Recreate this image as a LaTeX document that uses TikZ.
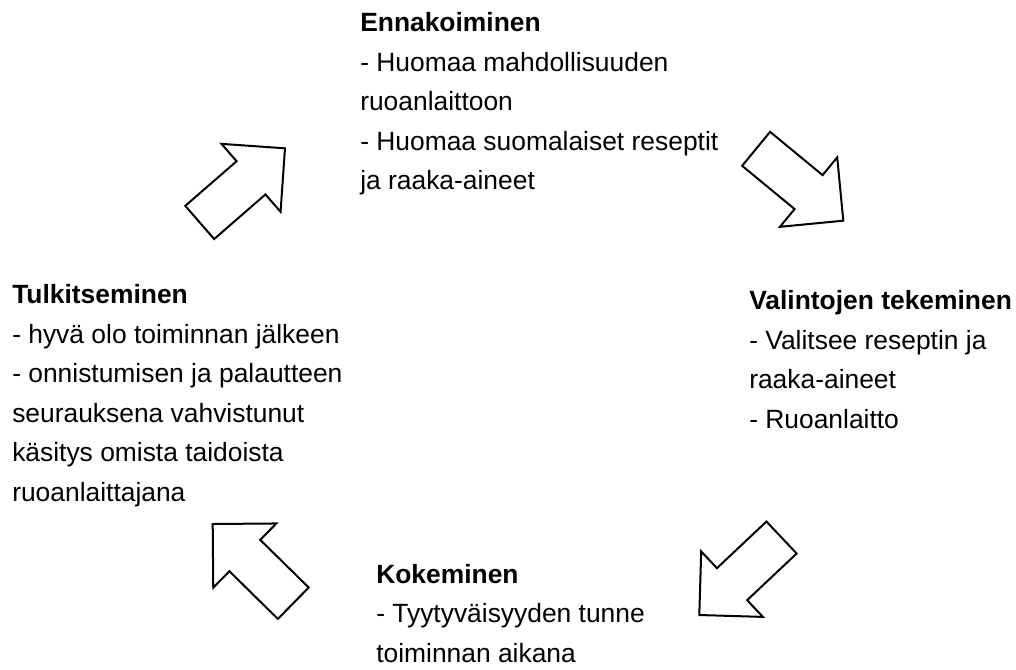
\documentclass[tikz,border=0pt]{standalone}
\usepackage{fontspec}
\setmainfont{Liberation Sans}
\tikzset{
  lbl/.style={anchor=base west, inner sep=0pt, align=left, text=black,
    font=\fontsize{19.8pt}{29.6pt}\selectfont},
  blockarrow/.style={draw=black, line width=1.5pt, fill=white, line join=miter},
}
\newcommand\cyclearrow[3]{% tip x, tip y, angle
  \begin{scope}[shift={(#1,#2)}, x=0.75pt, y=0.75pt, rotate=#3]
    \draw[blockarrow] (0,0) -- (-45,45) -- (-45,22) -- (-113,22) -- (-113,-22)
      -- (-45,-22) -- (-45,-45) -- cycle;
  \end{scope}}
\begin{document}
\begin{tikzpicture}[x=0.75pt, y=-0.75pt]
  \useasboundingbox (0,0) rectangle (1016,669);
  % anchor base = baseline of the last line
  \node[lbl] (ennak) at (360,189.5) {\textbf{Ennakoiminen}\\- Huomaa mahdollisuuden\\ruoanlaittoon\\- Huomaa suomalaiset reseptit\\ja raaka-aineet};
  \node[lbl] (valin) at (749,428) {\textbf{Valintojen tekeminen}\\- Valitsee reseptin ja\\raaka-aineet\\- Ruoanlaitto};
  \node[lbl] (kokem) at (376,662) {\textbf{Kokeminen}\\- Tyytyväisyyden tunne\\toiminnan aikana};
  \node[lbl] (tulki) at (12,501) {\textbf{Tulkitseminen}\\- hyvä olo toiminnan jälkeen\\- onnistumisen ja palautteen\\seurauksena vahvistunut\\käsitys omista taidoista\\ruoanlaittajana};
  \cyclearrow{285}{148.3}{41}
  \cyclearrow{843.3}{220.7}{-39.5}
  \cyclearrow{699.3}{615}{223.3}
  \cyclearrow{212.7}{524}{135.5}
\end{tikzpicture}
\end{document}
